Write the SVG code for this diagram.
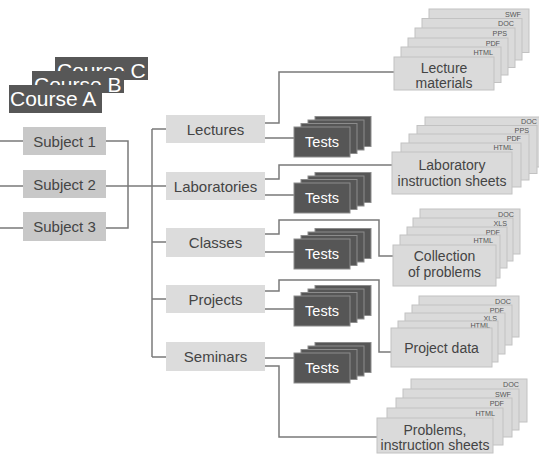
<svg xmlns="http://www.w3.org/2000/svg" xmlns:xlink="http://www.w3.org/1999/xlink" width="539" height="455" viewBox="0 0 539 455">
  <style>
    .bg { fill: #ffffff; }
    .course { fill: #575757; }
    .course-t { font-family: "Liberation Sans", Arial, sans-serif; font-size: 21px; fill: #ffffff; }
    .subj { fill: #c8c8c8; }
    .mid { fill: #dcdcdc; }
    .lbl { font-family: "Liberation Sans", Arial, sans-serif; font-size: 15px; fill: #444444; text-anchor: middle; }
    .doc { fill: #dadada; stroke: #c2c2c2; stroke-width: 1; }
    .doc-t { font-family: "Liberation Sans", Arial, sans-serif; font-size: 14px; fill: #444444; text-anchor: middle; }
    .fmt { font-family: "Liberation Sans", Arial, sans-serif; font-size: 7.2px; fill: #555555; text-anchor: end; }
    .test { fill: #565656; stroke: #8c8c8c; stroke-width: 1; }
    .test-t { font-family: "Liberation Sans", Arial, sans-serif; font-size: 14.5px; fill: #ffffff; text-anchor: middle; }
    .wire { fill: none; stroke: #7a7a7a; stroke-width: 1.5; }
  </style>
  <defs>
    <!-- four stacked test sheets, front sheet at the origin -->
    <g id="testsStack">
      <rect class="test" x="21" y="-10.5" width="56" height="30"/>
      <rect class="test" x="14" y="-7" width="56" height="30"/>
      <rect class="test" x="7" y="-3.5" width="56" height="30"/>
      <rect class="test" x="0" y="0" width="56" height="30"/>
    </g>
  </defs>

  <rect class="bg" x="0" y="0" width="539" height="455"/>

  <!-- connectors -->
  <g id="connectors">
    <!-- subjects -->
    <path class="wire" d="M0 141H23M0 186H23M0 228H23"/>
    <path class="wire" d="M106 141H128V228H106"/>
    <path class="wire" d="M106 186H166"/>
    <!-- forms of teaching bracket -->
    <path class="wire" d="M152 129V357"/>
    <path class="wire" d="M152 129H166M152 242H166M152 299H166M152 357H166"/>
    <!-- to materials -->
    <path class="wire" d="M265 123H279V72H395"/>
    <path class="wire" d="M265 179H279V165H393"/>
    <path class="wire" d="M265 234H279V220H379V256H393"/>
    <path class="wire" d="M265 291H279V280H379V352H391"/>
    <path class="wire" d="M265 366H279V437H377"/>
    <!-- to tests -->
    <path class="wire" d="M265 138H294M265 195H294M265 252H294M265 309H294M265 358H294"/>
  </g>

  <!-- courses, drawn back to front so each hides the lower part of the one behind -->
  <g id="courses">
    <rect class="course" x="55" y="57" width="93" height="23"/>
    <text class="course-t" x="57" y="78">Course C</text>
    <rect class="course" x="32" y="71" width="92" height="22"/>
    <text class="course-t" x="34" y="92">Course B</text>
    <rect class="course" x="9" y="85" width="93" height="28"/>
    <text class="course-t" x="10" y="106">Course A</text>
  </g>

  <!-- subjects -->
  <g id="subject1"><rect class="subj" x="23" y="127" width="83" height="28"/><text class="lbl" x="64.5" y="146.5">Subject 1</text></g>
  <g id="subject2"><rect class="subj" x="23" y="170" width="83" height="28"/><text class="lbl" x="64.5" y="189.5">Subject 2</text></g>
  <g id="subject3"><rect class="subj" x="23" y="212" width="83" height="29"/><text class="lbl" x="64.5" y="232">Subject 3</text></g>

  <!-- forms of teaching -->
  <g id="lectures"><rect class="mid" x="166" y="115" width="99" height="28"/><text class="lbl" x="215.5" y="134.5">Lectures</text></g>
  <g id="laboratories"><rect class="mid" x="166" y="172" width="99" height="28"/><text class="lbl" x="215.5" y="191.5">Laboratories</text></g>
  <g id="classes"><rect class="mid" x="166" y="228" width="99" height="29"/><text class="lbl" x="215.5" y="248">Classes</text></g>
  <g id="projects"><rect class="mid" x="166" y="285" width="99" height="28"/><text class="lbl" x="215.5" y="304.5">Projects</text></g>
  <g id="seminars"><rect class="mid" x="166" y="342" width="99" height="29"/><text class="lbl" x="215.5" y="362">Seminars</text></g>

  <!-- tests -->
  <g id="tests-lectures"><use xlink:href="#testsStack" x="294" y="127"/><text class="test-t" x="322" y="147">Tests</text></g>
  <g id="tests-laboratories"><use xlink:href="#testsStack" x="294" y="183"/><text class="test-t" x="322" y="203">Tests</text></g>
  <g id="tests-classes"><use xlink:href="#testsStack" x="294" y="239"/><text class="test-t" x="322" y="259">Tests</text></g>
  <g id="tests-projects"><use xlink:href="#testsStack" x="294" y="296"/><text class="test-t" x="322" y="316">Tests</text></g>
  <g id="tests-seminars"><use xlink:href="#testsStack" x="294" y="353"/><text class="test-t" x="322" y="373">Tests</text></g>

  <!-- lecture materials -->
  <g id="lecture-materials">
    <rect class="doc" x="429" y="9" width="100" height="43.5"/><text class="fmt" x="521" y="16.5">SWF</text>
    <rect class="doc" x="422" y="18.5" width="100" height="41.5"/><text class="fmt" x="514" y="26">DOC</text>
    <rect class="doc" x="415" y="28" width="100" height="39.5"/><text class="fmt" x="507" y="35.5">PPS</text>
    <rect class="doc" x="408" y="38" width="100" height="37"/><text class="fmt" x="500" y="45.5">PDF</text>
    <rect class="doc" x="401" y="47" width="100" height="35.5"/><text class="fmt" x="493" y="54.5">HTML</text>
    <rect class="doc" x="394" y="57" width="100" height="33"/>
    <text class="doc-t" x="444" y="72.5">Lecture</text>
    <text class="doc-t" x="444" y="87.5">materials</text>
  </g>

  <!-- laboratory instruction sheets -->
  <g id="lab-sheets">
    <rect class="doc" x="425" y="117" width="120" height="50"/><text class="fmt" x="537" y="124">DOC</text>
    <rect class="doc" x="417" y="125.5" width="120" height="48"/><text class="fmt" x="529" y="132.5">PPS</text>
    <rect class="doc" x="409" y="134" width="120" height="46"/><text class="fmt" x="521" y="141">PDF</text>
    <rect class="doc" x="401" y="143" width="120" height="44"/><text class="fmt" x="513" y="150">HTML</text>
    <rect class="doc" x="392" y="152" width="120" height="42"/>
    <text class="doc-t" x="452" y="170">Laboratory</text>
    <text class="doc-t" x="452" y="185.5">instruction sheets</text>
  </g>

  <!-- collection of problems -->
  <g id="problem-collection">
    <rect class="doc" x="420" y="209" width="100" height="45"/><text class="fmt" x="514" y="216.5">DOC</text>
    <rect class="doc" x="413" y="218" width="100" height="43"/><text class="fmt" x="507" y="225.5">XLS</text>
    <rect class="doc" x="407" y="227" width="100" height="41"/><text class="fmt" x="500" y="234.5">PDF</text>
    <rect class="doc" x="400" y="235" width="100" height="43"/><text class="fmt" x="493" y="242.5">HTML</text>
    <rect class="doc" x="393" y="245" width="103" height="41"/>
    <text class="doc-t" x="444.5" y="261">Collection</text>
    <text class="doc-t" x="444.5" y="276.5">of problems</text>
  </g>

  <!-- project data -->
  <g id="project-data">
    <rect class="doc" x="419" y="296" width="100" height="41"/><text class="fmt" x="511" y="303.5">DOC</text>
    <rect class="doc" x="412" y="305" width="100" height="40"/><text class="fmt" x="504" y="312.5">PDF</text>
    <rect class="doc" x="405" y="313" width="100" height="41"/><text class="fmt" x="497" y="320.5">XLS</text>
    <rect class="doc" x="398" y="321" width="100" height="41"/><text class="fmt" x="490" y="328">HTML</text>
    <rect class="doc" x="391" y="328" width="101" height="39"/>
    <text class="doc-t" x="441.5" y="352.5">Project data</text>
  </g>

  <!-- problems, instruction sheets -->
  <g id="seminar-sheets">
    <rect class="doc" x="411" y="379" width="116" height="43"/><text class="fmt" x="519" y="386.5">DOC</text>
    <rect class="doc" x="403" y="389" width="116" height="41"/><text class="fmt" x="511" y="396.5">SWF</text>
    <rect class="doc" x="396" y="398" width="116" height="39"/><text class="fmt" x="504" y="405.5">PDF</text>
    <rect class="doc" x="387" y="408" width="116" height="37"/><text class="fmt" x="495" y="415.5">HTML</text>
    <rect class="doc" x="377" y="418" width="116" height="35"/>
    <text class="doc-t" x="435" y="434.5">Problems,</text>
    <text class="doc-t" x="435" y="450">instruction sheets</text>
  </g>
</svg>
